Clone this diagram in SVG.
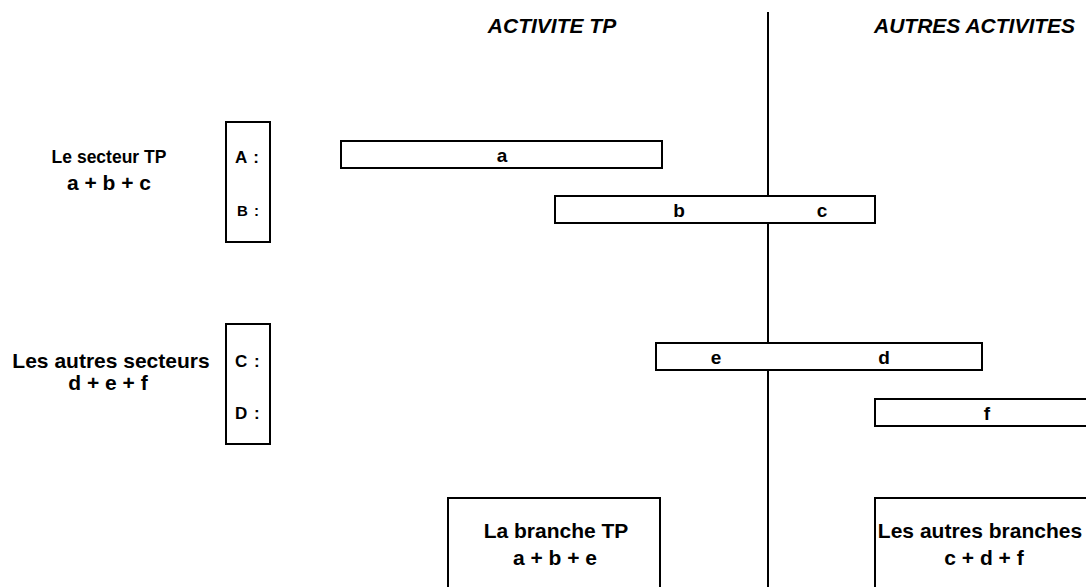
<svg xmlns="http://www.w3.org/2000/svg" width="1086" height="587" viewBox="0 0 1086 587">
<style>
text{font-family:"Liberation Sans",Arial,sans-serif;font-weight:bold;fill:#000}
.box{fill:#fff;stroke:#000;stroke-width:2}
.h{font-style:italic;font-size:21px}
.m{text-anchor:middle}
.big{font-size:21px}
.lbl{font-size:19px;text-anchor:middle}
.key{font-size:17px;word-spacing:2px}
</style>
<rect width="1086" height="587" fill="#fff"/>
<g id="headers">
<text class="h m" x="552" y="33">ACTIVITE TP</text>
<text class="h" x="874" y="33">AUTRES ACTIVITES</text>
</g>
<g id="connectors">
<line x1="768" y1="12" x2="768" y2="587" stroke="#000" stroke-width="2"/>
</g>
<g id="secteur-tp">
<text class="m" x="109" y="163" font-size="17.5">Le secteur TP</text>
<text class="m big" x="109" y="190">a + b + c</text>
</g>
<g id="bracket-ab">
<rect class="box" x="226" y="122" width="44" height="120"/>
<text class="key" x="235" y="163">A :</text>
<text x="237" y="216" font-size="15" style="word-spacing:2px">B :</text>
</g>
<g id="autres-secteurs">
<text class="m big" x="111" y="368">Les autres secteurs</text>
<text class="m big" x="108" y="390">d + e + f</text>
</g>
<g id="bracket-cd">
<rect class="box" x="226" y="324" width="44" height="120"/>
<text class="key" x="235" y="367">C :</text>
<text class="key" x="235" y="419">D :</text>
</g>
<g id="bar-a">
<rect class="box" x="341" y="141" width="321" height="27"/>
<text class="lbl" x="502" y="162">a</text>
</g>
<g id="bar-bc">
<rect class="box" x="555" y="196" width="320" height="27"/>
<text class="lbl" x="679" y="217">b</text>
<text class="lbl" x="822" y="217">c</text>
</g>
<g id="bar-ed">
<rect class="box" x="656" y="343" width="326" height="27"/>
<text class="lbl" x="716" y="364">e</text>
<text class="lbl" x="884" y="364">d</text>
</g>
<g id="bar-f">
<rect class="box" x="875" y="399" width="215" height="27"/>
<text class="lbl" x="987" y="420">f</text>
</g>
<g id="branche-tp">
<rect class="box" x="448" y="498" width="212" height="95"/>
<text class="m big" x="556" y="538">La branche TP</text>
<text class="m big" x="555" y="565">a + b + e</text>
</g>
<g id="autres-branches">
<rect class="box" x="875" y="498" width="215" height="95"/>
<text class="m big" x="980" y="538">Les autres branches</text>
<text class="m big" x="984" y="565">c + d + f</text>
</g>
</svg>
